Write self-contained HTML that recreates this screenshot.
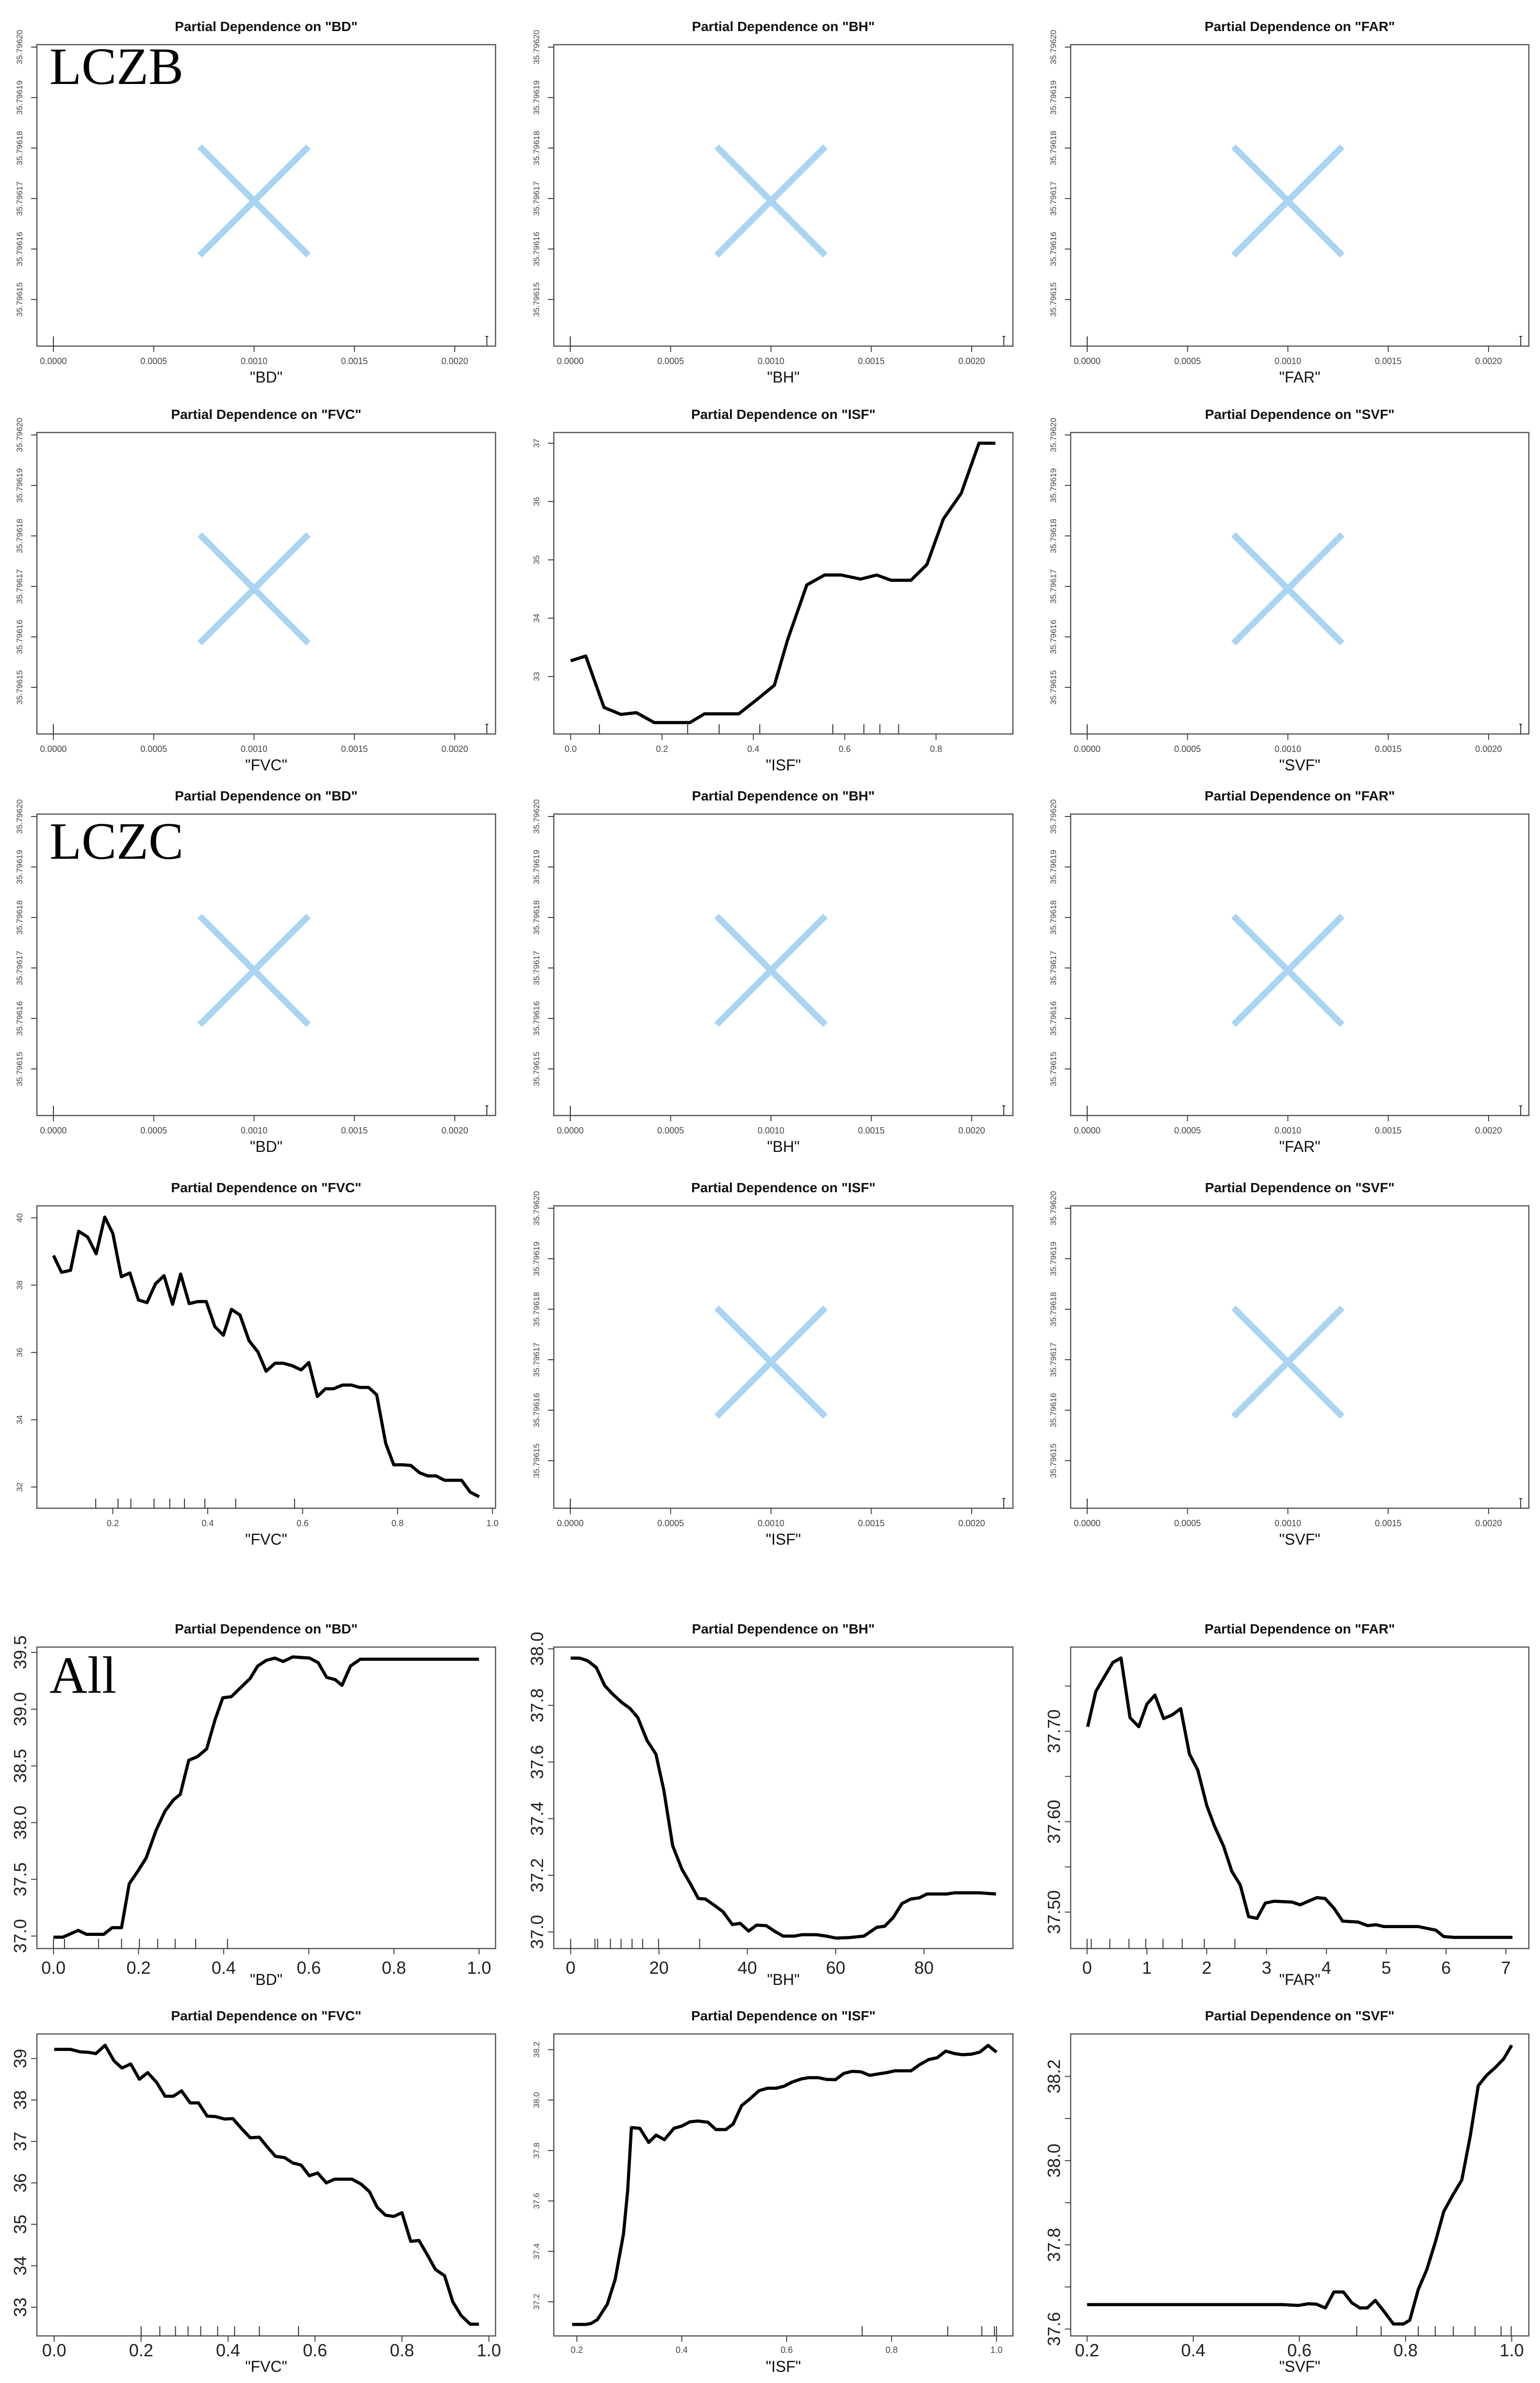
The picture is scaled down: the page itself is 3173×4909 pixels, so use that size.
<!DOCTYPE html>
<html><head><meta charset="utf-8">
<style>
html,body{margin:0;padding:0;background:#fff;}
svg{display:block;}
text{font-family:"Liberation Sans",sans-serif;}
text.serif{font-family:"Liberation Serif",serif;}
</style></head>
<body>
<svg id="fig" xmlns="http://www.w3.org/2000/svg" width="3173" height="4909" viewBox="0 0 3173 4909">
<rect x="0" y="0" width="3173" height="4909" fill="#fff"/>
</svg>
<script>
// ---- data ----
const lczbIsfX = [0,0.033,0.073,0.11,0.144,0.183,0.261,0.293,0.368,0.407,0.446,0.475,0.517,0.556,0.592,0.635,0.67,0.702,0.745,0.78,0.816,0.855,0.894,0.93];
const lczbIsfY = [33.27,33.35,32.47,32.35,32.38,32.21,32.21,32.36,32.36,32.6,32.85,33.63,34.57,34.74,34.74,34.67,34.74,34.65,34.65,34.92,35.7,36.14,37.0,37.0];
const lczbIsfRug = [0.063,0.256,0.325,0.414,0.574,0.642,0.677,0.718];

const lczcFvcX = [0.075,0.092,0.111,0.128,0.147,0.165,0.183,0.2,0.218,0.236,0.254,0.272,0.29,0.308,0.326,0.343,0.361,0.379,0.397,0.415,0.433,0.45,0.468,0.487,0.506,0.523,0.542,0.559,0.577,0.597,0.613,0.631,0.648,0.665,0.684,0.703,0.72,0.739,0.756,0.775,0.792,0.811,0.828,0.847,0.864,0.881,0.899,0.935,0.953,0.972];
const lczcFvcY = [38.88,38.38,38.44,39.6,39.43,38.93,40.02,39.54,38.25,38.36,37.56,37.48,38.04,38.28,37.43,38.33,37.45,37.51,37.51,36.77,36.51,37.28,37.11,36.35,36.01,35.44,35.68,35.68,35.61,35.48,35.7,34.69,34.92,34.92,35.03,35.03,34.96,34.96,34.74,33.3,32.66,32.66,32.64,32.42,32.33,32.33,32.2,32.2,31.85,31.71];
const lczcFvcRug = [0.164,0.211,0.238,0.287,0.32,0.351,0.394,0.459,0.583];

const allBdX = [0,0.022,0.058,0.078,0.118,0.138,0.16,0.178,0.198,0.218,0.241,0.262,0.282,0.298,0.318,0.338,0.36,0.38,0.398,0.418,0.44,0.462,0.48,0.5,0.52,0.54,0.562,0.602,0.622,0.642,0.662,0.678,0.698,0.721,1.0];
const allBdY = [36.99,36.99,37.05,37.015,37.015,37.074,37.074,37.46,37.57,37.69,37.93,38.1,38.2,38.25,38.55,38.58,38.65,38.91,39.1,39.11,39.19,39.27,39.38,39.43,39.45,39.42,39.46,39.45,39.41,39.28,39.26,39.21,39.38,39.44,39.44];
const allBdRug = [0,0.026,0.106,0.16,0.202,0.245,0.286,0.334,0.409];

const allBhX = [0,2,3.8,5.8,7.7,9.5,11.6,13.4,15.2,17.3,19.3,21.1,23.1,25.2,27,28.9,30.5,32.7,34.5,36.6,38.4,40.3,42.1,44.3,46.1,48.1,50.6,52.4,55.7,57.9,60.1,63.1,66.4,69.3,71.1,73,75,77,78.9,80.7,85.1,87,92.5,96.3];
const allBhY = [37.967,37.967,37.958,37.934,37.87,37.84,37.81,37.79,37.757,37.676,37.628,37.5,37.304,37.221,37.173,37.118,37.116,37.092,37.071,37.026,37.03,37.003,37.024,37.022,37.003,36.985,36.985,36.99,36.99,36.985,36.978,36.98,36.985,37.016,37.02,37.05,37.1,37.116,37.12,37.134,37.134,37.138,37.138,37.134];
const allBhRug = [0,5.5,6.1,9,11.4,13.9,16.3,19.9,29.2];

const allFarX = [0.01,0.146,0.286,0.43,0.567,0.718,0.864,1.0,1.133,1.28,1.42,1.565,1.71,1.85,2.0,2.13,2.28,2.42,2.56,2.7,2.84,2.98,3.13,3.43,3.56,3.7,3.84,3.98,4.13,4.27,4.53,4.69,4.83,4.96,5.13,5.53,5.83,5.96,6.13,7.11];
const allFarY = [37.705,37.744,37.76,37.776,37.781,37.715,37.705,37.73,37.74,37.714,37.718,37.725,37.675,37.657,37.618,37.595,37.573,37.545,37.53,37.495,37.493,37.51,37.512,37.511,37.508,37.512,37.516,37.515,37.504,37.49,37.489,37.485,37.486,37.484,37.484,37.484,37.48,37.473,37.472,37.472];
const allFarRug = [0,0.07,0.38,0.7,0.98,1.27,1.59,1.96,2.47];

const allFvcX = [0,0.038,0.06,0.079,0.096,0.117,0.138,0.156,0.176,0.196,0.215,0.236,0.255,0.274,0.293,0.313,0.332,0.352,0.371,0.392,0.411,0.431,0.451,0.472,0.49,0.509,0.53,0.549,0.568,0.587,0.606,0.626,0.645,0.685,0.706,0.725,0.743,0.762,0.781,0.8,0.82,0.839,0.858,0.877,0.898,0.917,0.936,0.957,0.977];
const allFvcY = [39.22,39.22,39.16,39.15,39.12,39.32,38.94,38.77,38.87,38.5,38.66,38.42,38.09,38.09,38.22,37.93,37.93,37.61,37.6,37.54,37.55,37.31,37.09,37.1,36.87,36.64,36.61,36.48,36.43,36.17,36.24,36.0,36.09,36.09,35.97,35.79,35.41,35.22,35.19,35.28,34.59,34.61,34.27,33.91,33.76,33.13,32.8,32.59,32.59];
const allFvcRug = [0.2,0.243,0.279,0.308,0.337,0.376,0.415,0.472,0.562];

const allIsfX = [0.191,0.217,0.227,0.239,0.258,0.273,0.289,0.297,0.304,0.32,0.337,0.351,0.367,0.385,0.4,0.416,0.431,0.45,0.465,0.484,0.498,0.514,0.53,0.547,0.563,0.58,0.595,0.611,0.628,0.642,0.66,0.676,0.693,0.709,0.725,0.742,0.758,0.775,0.791,0.806,0.837,0.854,0.871,0.887,0.903,0.921,0.935,0.952,0.968,0.984,1.0];
const allIsfY = [37.11,37.11,37.114,37.129,37.19,37.288,37.47,37.642,37.891,37.888,37.832,37.861,37.843,37.888,37.897,37.914,37.917,37.912,37.883,37.883,37.905,37.978,38.005,38.037,38.047,38.047,38.055,38.072,38.084,38.089,38.089,38.082,38.081,38.106,38.114,38.112,38.098,38.104,38.109,38.116,38.116,38.141,38.161,38.168,38.194,38.184,38.18,38.182,38.19,38.217,38.19];
const allIsfRug = [0.744,0.907,0.972,0.996,1.0];

const allSvfX = [0.2,0.568,0.598,0.617,0.632,0.649,0.665,0.683,0.699,0.714,0.728,0.743,0.76,0.777,0.796,0.808,0.824,0.84,0.856,0.872,0.889,0.906,0.922,0.937,0.953,0.969,0.985,1.0];
const allSvfY = [37.658,37.658,37.656,37.66,37.659,37.65,37.688,37.688,37.662,37.65,37.65,37.668,37.641,37.612,37.612,37.621,37.694,37.741,37.806,37.879,37.918,37.954,38.059,38.178,38.203,38.221,38.242,38.274];
const allSvfRug = [0.708,0.754,0.824,0.856,0.89,0.931,0.98,0.999];

const emptyXTicks = [0, 0.0005, 0.001, 0.0015, 0.002];
const emptyXLabels = ["0.0000","0.0005","0.0010","0.0015","0.0020"];
const emptyYTicks = [35.79615,35.79616,35.79617,35.79618,35.79619,35.79620];
const emptyYLabels = ["35.79615","35.79616","35.79617","35.79618","35.79619","35.79620"];
const emptyRug = [0, 0.00216];

// ---- layout ----
const NS = "http://www.w3.org/2000/svg";
const svg = document.getElementById('fig');
const COLS = [[76,1021],[1141,2087],[2206,3150]];
const ROWS = [[92,713],[891,1512],[1677,2298],[2484,3107],[3393,4014],[4190,4812]];

function mk(tag, attrs, parent, txt){
  const e = document.createElementNS(NS, tag);
  for (const k in attrs) e.setAttribute(k, attrs[k]);
  if (txt !== undefined) e.textContent = txt;
  (parent || svg).appendChild(e);
  return e;
}
function lin(v0,p0,v1,p1){ return v => p0 + (v - v0) * (p1 - p0) / (v1 - v0); }

function panel(opt){
  const [x0,x1] = COLS[opt.col], [y0,y1] = ROWS[opt.row];
  const g = mk('g', {});
  
  
  const t = mk('text', {x:(x0+x1)/2, y:y0-28, 'text-anchor':'middle', 'font-size':28, 'font-weight':'bold', fill:'#111'}, g, 'Partial Dependence on "' + opt.v + '"');
  
  
  const box = mk('rect', {x:x0, y:y0, width:x1-x0, height:y1-y0, fill:'none', stroke:'#555', 'stroke-width':2.5}, g);
  
  
  const sx = lin(opt.xr[0],opt.xr[1],opt.xr[2],opt.xr[3]);
  const sy = lin(opt.yr[0],opt.yr[1],opt.yr[2],opt.yr[3]);
  const big = opt.big;
  const tickOff = opt.tickOff || (big?52:37);
  const titleOff = opt.titleOff || 75;
  opt.xt.forEach((v,i) => {
    const px = sx(v);
    const tk = mk('line', {x1:px, y1:y1, x2:px, y2:y1+12, stroke:'#444', 'stroke-width':2}, g);
    
    
    const lb = mk('text', {x:px, y:y1 + tickOff, 'text-anchor':'middle', 'font-size': big?36:18, fill: big?'#222':'#444'}, g, opt.xl[i]);
    
    
  });
  opt.yt.forEach(v => {
    const py = sy(v);
    const tk = mk('line', {x1:x0-12, y1:py, x2:x0, y2:py, stroke:'#444', 'stroke-width':2}, g);
    
    
  });
  opt.yl.forEach((s,i) => {
    if (s === null) return;
    const py = sy(opt.yt[i]);
    const lx = x0 - (big?22:30);
    const lb = mk('text', {x:lx, y:py, 'text-anchor':'middle', 'font-size': big?36:17, fill: big?'#222':'#444', transform:`rotate(-90 ${lx} ${py})`}, g, s);
    
    
  });
  const al = mk('text', {x:(x0+x1)/2, y:y1 + titleOff, 'text-anchor':'middle', 'font-size':32, fill:'#111'}, g, '"' + opt.v + '"');
  
  
  opt.rug.forEach(v => {
    const px = sx(v);
    const r = mk('line', {x1:px, y1:y1, x2:px, y2:y1-20, stroke:'#333', 'stroke-width':2}, g);
    
    
  });
  if (opt.xs) {
    const d = opt.xs.map((v,i) => (i?'L':'M') + sx(v).toFixed(1) + ',' + sy(opt.ys[i]).toFixed(1)).join(' ');
    const p = mk('path', {d:d, fill:'none', stroke:'#000', 'stroke-width':6.5, 'stroke-linejoin':'round'}, g);
    
    
  } else {
    const cx = sx(0.001), cy = y0 + 322, h = 112;
    const xg = mk('g', {stroke:'#a9d4f2', 'stroke-width':13}, g);
    
    
    mk('line', {x1:cx-h, y1:cy-h, x2:cx+h, y2:cy+h}, xg);
    mk('line', {x1:cx-h, y1:cy+h, x2:cx+h, y2:cy-h}, xg);
    const c = mk('line', {x1:sx(0.00216)-3, y1:y1-20, x2:sx(0.00216)+3, y2:y1-20, stroke:'#333', 'stroke-width':2}, g);
    
    
  }
  if (opt.tag) {
    const tg = mk('text', {x:x0+26, y:y0+opt.tagY, 'font-size':108, 'class':'serif', fill:'#000'}, g, opt.tag);
    
    
  }
}

function emptyPanel(row,col,v,tag,tagY){
  const x0 = COLS[col][0], y0 = ROWS[row][0];
  panel({row,col,v,name:'panel-'+v.toLowerCase()+'-empty',tag,tagY,
    xr:[0,x0+34,0.002,x0+861], yr:[35.79620,y0+5,35.79615,y0+525],
    xt:emptyXTicks, xl:emptyXLabels, yt:emptyYTicks, yl:emptyYLabels, rug:emptyRug});
}

emptyPanel(0,0,'BD','LCZB',81);
emptyPanel(0,1,'BH');
emptyPanel(0,2,'FAR');
emptyPanel(1,0,'FVC');
panel({row:1,col:1,v:'ISF',name:'panel-lczb-isf',xr:[0,1175.8,0.8,1928.6],yr:[37,913,33,1393.6],
  xt:[0,0.2,0.4,0.6,0.8],xl:['0.0','0.2','0.4','0.6','0.8'],yt:[33,34,35,36,37],yl:['33','34','35','36','37'],
  rug:lczbIsfRug,xs:lczbIsfX,ys:lczbIsfY});
emptyPanel(1,2,'SVF');
emptyPanel(2,0,'BD','LCZC',92);
emptyPanel(2,1,'BH');
emptyPanel(2,2,'FAR');
panel({row:3,col:0,v:'FVC',name:'panel-lczc-fvc',xr:[0.2,232.4,1.0,1014.7],yr:[40,2508.7,32,3063.3],
  xt:[0.2,0.4,0.6,0.8,1.0],xl:['0.2','0.4','0.6','0.8','1.0'],yt:[32,34,36,38,40],yl:['32','34','36','38','40'],
  rug:lczcFvcRug,xs:lczcFvcX,ys:lczcFvcY});
emptyPanel(3,1,'ISF');
emptyPanel(3,2,'SVF');
panel({row:4,col:0,v:'BD',name:'panel-all-bd',big:true,tag:'All',tagY:94,xr:[0,110.1,1,987],yr:[37,3988.3,39.5,3404],
  xt:[0,0.2,0.4,0.6,0.8,1.0],xl:['0.0','0.2','0.4','0.6','0.8','1.0'],yt:[37,37.5,38,38.5,39,39.5],yl:['37.0','37.5','38.0','38.5','39.0','39.5'],
  rug:allBdRug,xs:allBdX,ys:allBdY});
panel({row:4,col:1,v:'BH',name:'panel-all-bh',big:true,xr:[0,1175.8,80,1903.8],yr:[38,3396.5,37,3979.7],
  xt:[0,20,40,60,80],xl:['0','20','40','60','80'],yt:[37,37.2,37.4,37.6,37.8,38],yl:['37.0','37.2','37.4','37.6','37.8','38.0'],
  rug:allBhRug,xs:allBhX,ys:allBhY});
panel({row:4,col:2,v:'FAR',name:'panel-all-far',big:true,xr:[0,2239.8,7,3102.7],yr:[37.70,3566.4,37.50,3938.9],
  xt:[0,1,2,3,4,5,6,7],xl:['0','1','2','3','4','5','6','7'],yt:[37.5,37.55,37.6,37.65,37.7,37.75],yl:['37.50',null,'37.60',null,'37.70',null],
  rug:allFarRug,xs:allFarX,ys:allFarY});
panel({row:5,col:0,v:'FVC',name:'panel-all-fvc',big:true,tickOff:42,titleOff:74,xr:[0,111.6,1,1007.4],yr:[39,4240.6,33,4752.9],
  xt:[0,0.2,0.4,0.6,0.8,1.0],xl:['0.0','0.2','0.4','0.6','0.8','1.0'],yt:[33,34,35,36,37,38,39],yl:['33','34','35','36','37','38','39'],
  rug:allFvcRug,xs:allFvcX,ys:allFvcY});
panel({row:5,col:1,v:'ISF',name:'panel-all-isf',tickOff:35,titleOff:74,xr:[0.2,1188.5,1.0,2053.2],yr:[38.2,4222.3,37.2,4741.7],
  xt:[0.2,0.4,0.6,0.8,1.0],xl:['0.2','0.4','0.6','0.8','1.0'],yt:[37.2,37.4,37.6,37.8,38.0,38.2],yl:['37.2','37.4','37.6','37.8','38.0','38.2'],
  rug:allIsfRug,xs:allIsfX,ys:allIsfY});
panel({row:5,col:2,v:'SVF',name:'panel-all-svf',big:true,tickOff:42,titleOff:74,xr:[0.2,2239.8,1.0,3114.7],yr:[38.2,4277.4,37.6,4797.8],
  xt:[0.2,0.4,0.6,0.8,1.0],xl:['0.2','0.4','0.6','0.8','1.0'],yt:[37.6,37.7,37.8,37.9,38.0,38.1,38.2],yl:['37.6',null,'37.8',null,'38.0',null,'38.2'],
  rug:allSvfRug,xs:allSvfX,ys:allSvfY});
</script>
</body></html>
